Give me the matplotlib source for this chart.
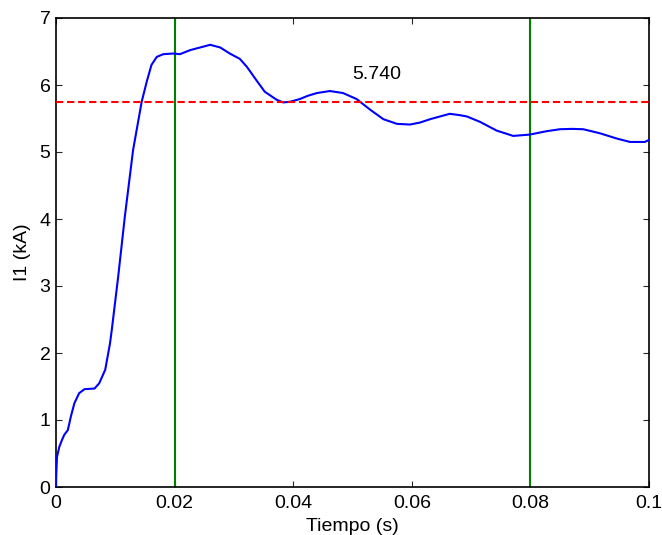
import matplotlib
matplotlib.use("Agg")
import matplotlib.pyplot as plt

t = [0.0, 0.00005, 0.00017, 0.00056, 0.0010, 0.0014, 0.0020, 0.0025, 0.0031, 0.0039,
     0.0048, 0.0057, 0.0065, 0.0073, 0.0079, 0.0083, 0.0091, 0.0094, 0.0105,
     0.0116, 0.0130, 0.01445, 0.0153, 0.0161, 0.0170, 0.0181, 0.0198, 0.0209,
     0.0226, 0.0243, 0.0260, 0.0277, 0.0293, 0.0310, 0.0322, 0.0338, 0.0352,
     0.0372, 0.0383, 0.0395, 0.0411, 0.0425, 0.0440, 0.0462, 0.0484, 0.0507,
     0.0530, 0.0552, 0.0575, 0.0597, 0.0614, 0.0631, 0.0664, 0.0681, 0.0693,
     0.0715, 0.0743, 0.0771, 0.0799, 0.0827, 0.0850, 0.0870, 0.0889, 0.0917,
     0.0946, 0.0968, 0.0993, 0.1000]
i1 = [0.0, 0.2, 0.45, 0.60, 0.70, 0.78, 0.85, 1.05, 1.25, 1.40,
      1.46, 1.465, 1.47, 1.55, 1.67, 1.75, 2.14, 2.34, 3.15,
      4.03, 5.03, 5.75, 6.05, 6.30, 6.42, 6.46, 6.47, 6.46,
      6.52, 6.56, 6.60, 6.56, 6.47, 6.39, 6.27, 6.07, 5.90,
      5.78, 5.74, 5.75, 5.79, 5.84, 5.88, 5.91, 5.88, 5.79,
      5.63, 5.49, 5.42, 5.41, 5.44, 5.49, 5.57, 5.55, 5.53,
      5.45, 5.32, 5.24, 5.26, 5.31, 5.34, 5.345, 5.34, 5.28,
      5.20, 5.15, 5.15, 5.18]

ref_value = 5.740
markers_t = [0.02, 0.08]
xticks = [0, 0.02, 0.04, 0.06, 0.08, 0.1]
xticklabels = ["0", "0.02", "0.04", "0.06", "0.08", "0.1"]
yticks = [0, 1, 2, 3, 4, 5, 6, 7]

plt.rcParams['font.family'] = ['Liberation Sans', 'DejaVu Sans']

fig = plt.figure(figsize=(6.62, 5.35), dpi=100)
ax = fig.add_axes([56/662, 48/535, 593/662, 469/535])

ax.plot(t, i1, color='#0000ff', lw=1.5, zorder=3, solid_joinstyle='round')
for m in markers_t:
    ax.axvline(m, color='#008000', lw=1.5, zorder=2)
ax.axhline(ref_value, color='#ff0000', lw=1.5, linestyle=(0, (3.5, 1.8)), zorder=4)
ax.text(0.0500, 6.15, f"{ref_value:.3f}", fontsize=14, ha='left', va='center')

ax.set_xlim(0, 0.1)
ax.set_ylim(0, 7)
ax.set_xticks(xticks)
ax.set_xticklabels(xticklabels)
ax.set_yticks(yticks)
ax.tick_params(direction='in', length=4, width=0.8, labelsize=14,
               top=True, right=True, color='#262626')
ax.tick_params(axis='x', pad=6)
ax.tick_params(axis='y', pad=4)
for s in ax.spines.values():
    s.set_linewidth(1.2)
ax.set_xlabel("Tiempo (s)", fontsize=14, labelpad=4)
ax.set_ylabel("I1 (kA)", fontsize=14, labelpad=6)

fig.savefig("out.png", dpi=100)
